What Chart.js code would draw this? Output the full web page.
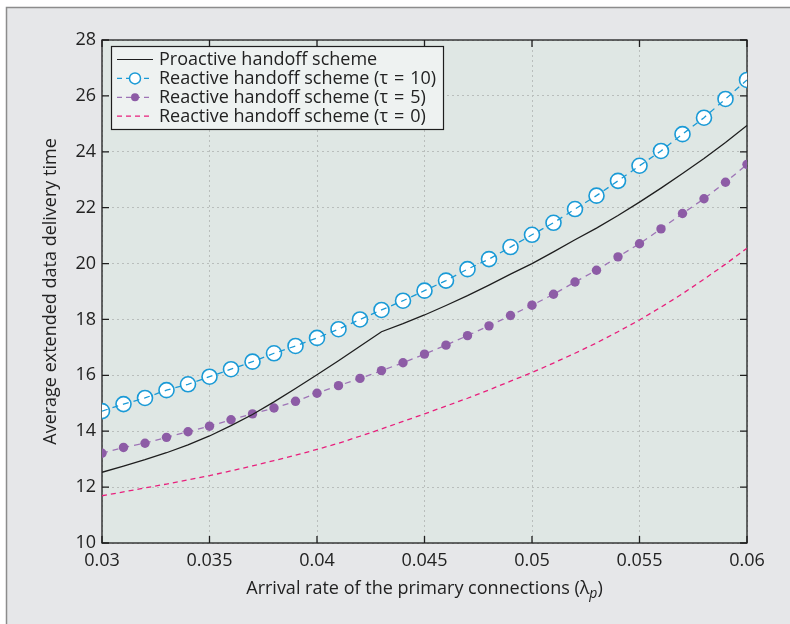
<!DOCTYPE html>
<html><head><meta charset="utf-8">
<script src="https://cdn.jsdelivr.net/npm/chart.js@4/dist/chart.umd.min.js"></script>
<style>html,body{margin:0;padding:0;background:#ffffff;}canvas{display:block}</style>
</head><body>
<canvas id="c" width="790" height="624"></canvas>
<script>
// ---- data ----
const arrivalRates = [0.030,0.031,0.032,0.033,0.034,0.035,0.036,0.037,0.038,0.039,0.040,0.041,0.042,0.043,0.044,0.045,0.046,0.047,0.048,0.049,0.050,0.051,0.052,0.053,0.054,0.055,0.056,0.057,0.058,0.059,0.060];
const proactive   = [12.53,12.75,12.98,13.23,13.51,13.83,14.20,14.60,15.05,15.53,16.02,16.52,17.04,17.56,17.85,18.16,18.50,18.85,19.23,19.62,20.00,20.42,20.85,21.27,21.72,22.20,22.70,23.22,23.76,24.33,24.94];
const reactiveTau10 = [14.72,14.97,15.19,15.47,15.68,15.95,16.22,16.49,16.79,17.05,17.34,17.65,18.00,18.34,18.67,19.03,19.39,19.80,20.16,20.59,21.03,21.46,21.95,22.43,22.96,23.50,24.03,24.63,25.22,25.89,26.57];
const reactiveTau5  = [13.21,13.42,13.57,13.78,13.98,14.18,14.41,14.62,14.83,15.07,15.36,15.63,15.89,16.17,16.45,16.76,17.08,17.42,17.77,18.14,18.51,18.90,19.34,19.76,20.24,20.71,21.24,21.79,22.32,22.91,23.55];
const reactiveTau0  = [11.69,11.83,11.97,12.11,12.26,12.41,12.58,12.76,12.95,13.14,13.35,13.57,13.82,14.08,14.35,14.62,14.90,15.18,15.48,15.79,16.10,16.44,16.79,17.16,17.56,17.98,18.44,18.92,19.44,19.98,20.55];
const xTickValues = [0.03,0.035,0.04,0.045,0.05,0.055,0.06];
const yTickValues = [10,12,14,16,18,20,22,24,26,28];
const seriesNames = ['Proactive handoff scheme','Reactive handoff scheme (\u03c4\u2004=\u200410)','Reactive handoff scheme (\u03c4\u2004=\u20045)','Reactive handoff scheme (\u03c4\u2004=\u20040)'];
const xTitle = ['Arrival rate of the primary connections (\u03bb', 'p', ')'];
const yTitle = 'Average extended data delivery time';

const FONT = '"Open Sans", "DejaVu Sans", sans-serif';
const FS = 18;
const C_BLUE = '#1a9ad6', C_PURPLE = '#8d5ca6', C_PURPLE_L = '#9e74b6', C_PINK = '#e8207c', C_BLACK = '#1e1e1e';
const pts = arr => arrivalRates.map((x,i)=>({x, y: arr[i]}));

const decor = {
  id: 'decor',
  beforeDraw(chart) {
    const ctx = chart.ctx, a = chart.chartArea;
    ctx.save();
    ctx.fillStyle = '#ffffff'; ctx.fillRect(0,0,chart.width,chart.height);
    ctx.fillStyle = '#e6e7e9'; ctx.fillRect(6,7,chart.width-6,chart.height-7);
    ctx.strokeStyle = '#8c8c8c'; ctx.lineWidth = 1.5;
    ctx.beginPath(); ctx.moveTo(6.5,chart.height); ctx.lineTo(6.5,7.5); ctx.lineTo(chart.width,7.5); ctx.stroke();
    ctx.fillStyle = '#dfe7e4'; ctx.fillRect(a.left,a.top,a.right-a.left,a.bottom-a.top);
    ctx.restore();
  },
  beforeDatasetsDraw(chart) {
    const ctx = chart.ctx, a = chart.chartArea, xs = chart.scales.x, ys = chart.scales.y;
    ctx.save();
    ctx.strokeStyle = C_BLACK; ctx.lineWidth = 1.3;
    ctx.strokeRect(a.left, a.top, a.right-a.left, a.bottom-a.top);
    ctx.beginPath();
    const L = 7;
    xTickValues.forEach(v=>{ const p = xs.getPixelForValue(v); ctx.moveTo(p,a.bottom); ctx.lineTo(p,a.bottom-L); ctx.moveTo(p,a.top); ctx.lineTo(p,a.top+L); });
    yTickValues.forEach(v=>{ const p = ys.getPixelForValue(v); ctx.moveTo(a.left,p); ctx.lineTo(a.left+L,p); ctx.moveTo(a.right,p); ctx.lineTo(a.right-L,p); });
    ctx.stroke();
    ctx.restore();
  },
  afterDatasetsDraw(chart) {
    const ctx = chart.ctx, a = chart.chartArea;
    ctx.save();
    const bx = a.left + 9, by = a.top + 6, bw = 332, bh = 83;
    ctx.fillStyle = '#eef2f1'; ctx.fillRect(bx,by,bw,bh);
    ctx.strokeStyle = C_BLACK; ctx.lineWidth = 1.2; ctx.strokeRect(bx+0.5,by+0.5,bw,bh);
    const rowY = i => by + 13.5 + i*18.9;
    const sx0 = bx + 6, sx1 = bx + 42, cx = (sx0+sx1)/2;
    ctx.setLineDash([]); ctx.strokeStyle = C_BLACK; ctx.lineWidth = 1.2;
    ctx.beginPath(); ctx.moveTo(sx0,rowY(0)); ctx.lineTo(sx1,rowY(0)); ctx.stroke();
    ctx.setLineDash([5,4]); ctx.strokeStyle = C_BLUE; ctx.lineWidth = 1.3;
    ctx.beginPath(); ctx.moveTo(sx0,rowY(1)); ctx.lineTo(sx1,rowY(1)); ctx.stroke();
    ctx.setLineDash([]); ctx.fillStyle = '#ffffff'; ctx.lineWidth = 1.5;
    ctx.beginPath(); ctx.arc(cx,rowY(1),5.5,0,Math.PI*2); ctx.fill(); ctx.stroke();
    ctx.setLineDash([5,4]); ctx.strokeStyle = C_PURPLE_L; ctx.lineWidth = 1.3;
    ctx.beginPath(); ctx.moveTo(sx0,rowY(2)); ctx.lineTo(sx1,rowY(2)); ctx.stroke();
    ctx.setLineDash([]); ctx.fillStyle = C_PURPLE;
    ctx.beginPath(); ctx.arc(cx,rowY(2),4,0,Math.PI*2); ctx.fill();
    ctx.setLineDash([5,4]); ctx.strokeStyle = C_PINK; ctx.lineWidth = 1.3;
    ctx.beginPath(); ctx.moveTo(sx0,rowY(3)); ctx.lineTo(sx1,rowY(3)); ctx.stroke();
    ctx.setLineDash([]);
    ctx.fillStyle = '#222'; ctx.font = FS + 'px ' + FONT; ctx.textBaseline = 'middle'; ctx.textAlign = 'left';
    seriesNames.forEach((t,i)=> ctx.fillText(t, bx+48, rowY(i)+0.5));
    ctx.restore();
  },
  afterDraw(chart) {
    const ctx = chart.ctx, a = chart.chartArea;
    ctx.save();
    ctx.fillStyle = '#222'; ctx.textBaseline = 'alphabetic'; ctx.textAlign = 'left';
    const fN = FS + 'px ' + FONT, fI = 'italic 14px ' + FONT;
    ctx.font = fN; const w0 = ctx.measureText(xTitle[0]).width, w2 = ctx.measureText(xTitle[2]).width;
    ctx.font = fI; const w1 = ctx.measureText(xTitle[1]).width;
    const total = w0 + w1 + w2;
    let x = (a.left + a.right)/2 - total/2; const y = 594;
    ctx.font = fN; ctx.fillText(xTitle[0], x, y); x += w0;
    ctx.font = fI; ctx.fillText(xTitle[1], x, y + 4); x += w1;
    ctx.font = fN; ctx.fillText(xTitle[2], x, y);
    ctx.restore();
  }
};

new Chart(document.getElementById('c'), {
  type: 'line',
  data: {
    datasets: [
      { label: seriesNames[1] + ' line', data: pts(reactiveTau10), borderColor: C_BLUE, borderWidth: 1.3, borderDash: [6,5], pointRadius: 0, order: 1 },
      { label: seriesNames[1], data: pts(reactiveTau10), showLine: false, pointRadius: 7.5, pointBackgroundColor: '#ffffff', pointBorderColor: C_BLUE, pointBorderWidth: 1.6, order: 2 },
      { label: seriesNames[0], data: pts(proactive), borderColor: C_BLACK, borderWidth: 1.3, pointRadius: 0, order: 3 },
      { label: seriesNames[2], data: pts(reactiveTau5), borderColor: C_PURPLE_L, borderWidth: 1.3, borderDash: [6,5], pointRadius: 4.7, pointBackgroundColor: C_PURPLE, pointBorderColor: C_PURPLE, pointBorderWidth: 0, order: 4 },
      { label: seriesNames[3], data: pts(reactiveTau0), borderColor: C_PINK, borderWidth: 1.3, borderDash: [5,4], pointRadius: 0, order: 5 }
    ]
  },
  options: {
    responsive: false, animation: false, devicePixelRatio: 1,
    layout: { padding: { left: 40, right: 43, top: 40, bottom: 21 } },
    plugins: { legend: { display: false }, tooltip: { enabled: false } },
    elements: { line: { tension: 0, fill: false } },
    scales: {
      x: {
        type: 'linear', min: 0.03, max: 0.06,
        afterBuildTicks: s => { s.ticks = xTickValues.map(v=>({value:v})); },
        afterFit: s => { s.height = 60; },
        ticks: { padding: 7, color: '#222', font: { family: FONT, size: FS }, callback: v => String(+v.toFixed(3)) },
        grid: { color: '#b9bebc', lineWidth: 1, drawTicks: false },
        border: { display: false, dash: [2,3] },
        title: { display: false }
      },
      y: {
        type: 'linear', min: 10, max: 28,
        afterBuildTicks: s => { s.ticks = yTickValues.map(v=>({value:v})); },
        afterFit: s => { s.width = 62; },
        ticks: { padding: 6, color: '#222', font: { family: FONT, size: FS } },
        grid: { color: '#b9bebc', lineWidth: 1, drawTicks: false },
        border: { display: false, dash: [2,3] },
        title: { display: true, text: yTitle, color: '#222', font: { family: FONT, size: FS }, padding: 0 }
      }
    }
  },
  plugins: [decor]
});
</script>
</body></html>
